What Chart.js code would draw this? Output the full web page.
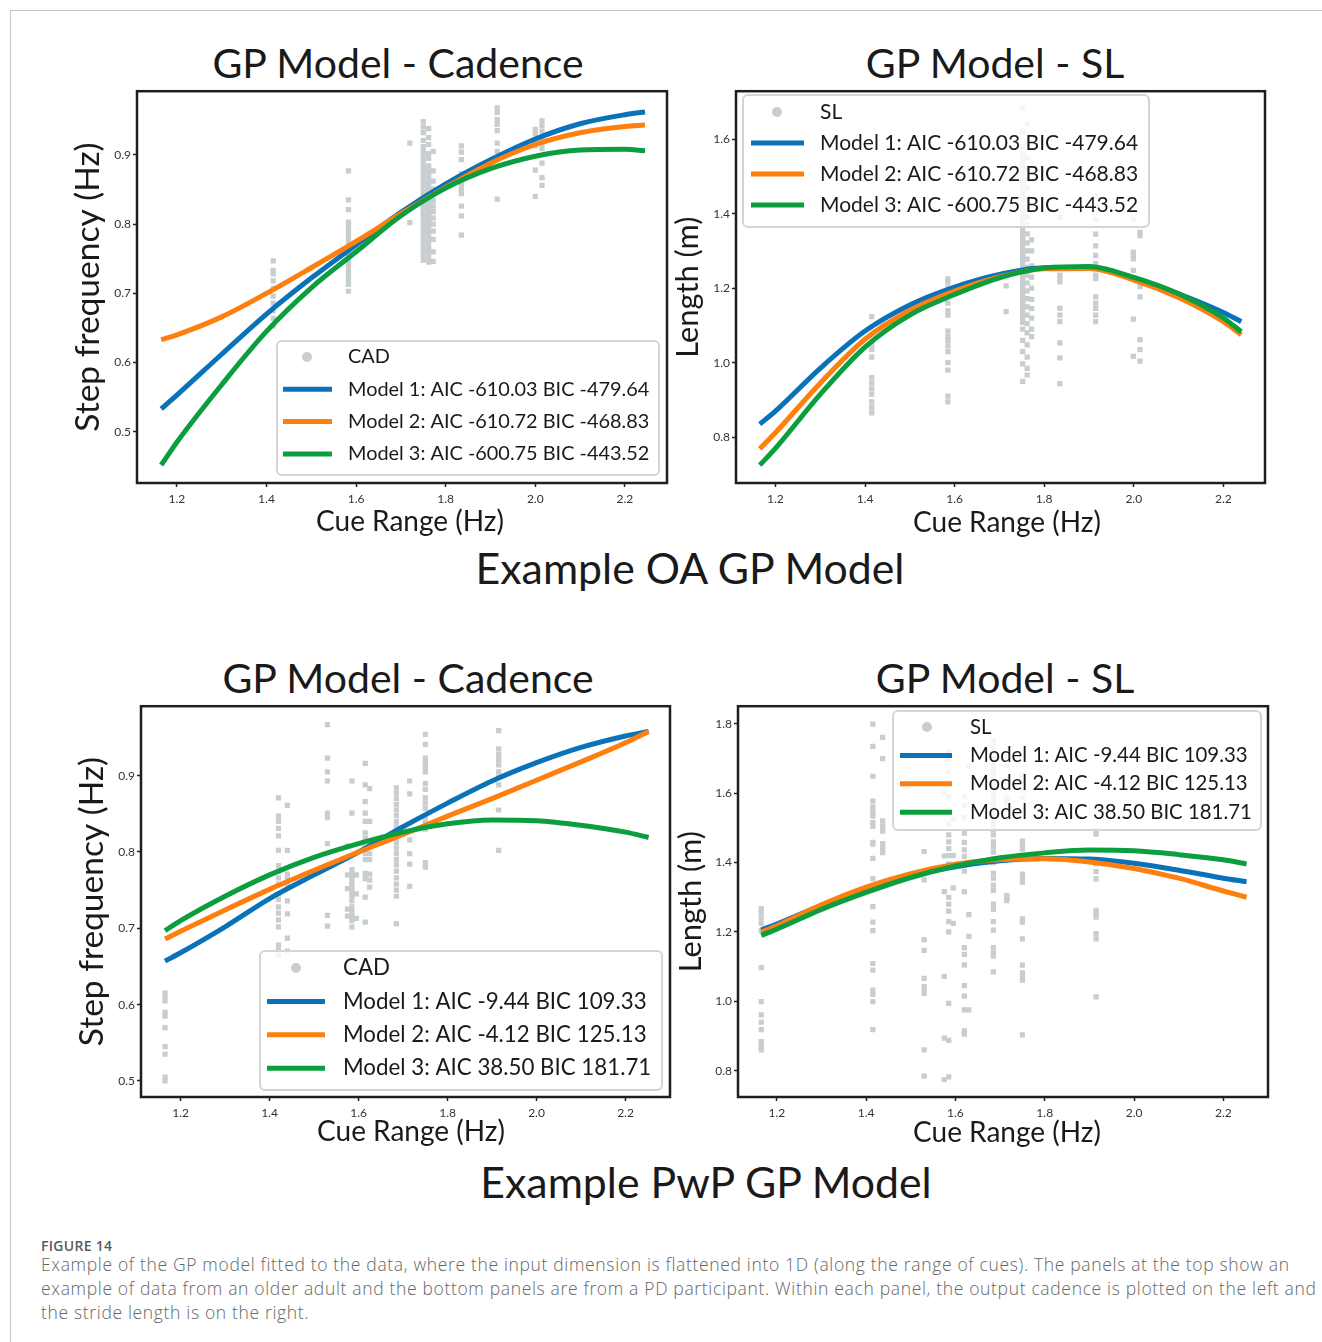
<!DOCTYPE html>
<html>
<head>
<meta charset="utf-8">
<script src="https://cdn.jsdelivr.net/npm/chart.js@4.4.0/dist/chart.umd.min.js"></script>
<style>
  body { margin: 0; width: 1322px; height: 1342px; background: #fff; position: relative; overflow: hidden; font-family: Lato, sans-serif; }
  .rule-top { position: absolute; left: 10px; top: 10px; right: 0; border-top: 1.5px solid #c4c4c4; }
  .rule-left { position: absolute; left: 10px; top: 10px; bottom: 0; border-left: 1.5px solid #c4c4c4; }
  .panel { position: absolute; }
  .ttl { position: absolute; font-size: 41px; line-height: 1; color: #1a1a1a; white-space: nowrap; transform: translate(-50%, -50%); }
  .sup { position: absolute; font-size: 42.8px; line-height: 1; color: #1a1a1a; white-space: nowrap; transform: translate(-50%, -50%); }
  .fig { position: absolute; left: 41px; top: 1236px; font-family: "Open Sans", sans-serif; font-size: 14px; font-weight: 600; letter-spacing: 0.3px; color: #5a5a5a; }
  .cap { position: absolute; left: 41px; top: 1252px; font-family: "Open Sans", sans-serif; font-size: 17.5px; font-weight: 300; letter-spacing: 0.66px; line-height: 24px; color: #666; white-space: nowrap; }
</style>
</head>
<body>
<div class="rule-top"></div>
<div class="rule-left"></div>

<div class="ttl" style="left:398px; top:62px;">GP Model - Cadence</div>
<div class="ttl" style="left:995px; top:62px;">GP Model - SL</div>
<div class="sup" style="left:690px; top:568px;">Example OA GP Model</div>
<div class="ttl" style="left:408px; top:677px;">GP Model - Cadence</div>
<div class="ttl" style="left:1005px; top:677px;">GP Model - SL</div>
<div class="sup" style="left:706px; top:1182px;">Example PwP GP Model</div>

<div class="panel" id="oaCad"><canvas></canvas></div>
<div class="panel" id="oaSl"><canvas></canvas></div>
<div class="panel" id="pwpCad"><canvas></canvas></div>
<div class="panel" id="pwpSl"><canvas></canvas></div>

<div class="fig">FIGURE 14</div>
<div class="cap">Example of the GP model fitted to the data, where the input dimension is flattened into 1D (along the range of cues). The panels at the top show an<br>example of data from an older adult and the bottom panels are from a PD participant. Within each panel, the output cadence is plotted on the left and<br>the stride length is on the right.</div>

<script>
// ---- data ----
const xTicks = [1.2, 1.4, 1.6, 1.8, 2.0, 2.2];
const cadTicks = [0.5, 0.6, 0.7, 0.8, 0.9];
const oaSlTicks = [0.8, 1.0, 1.2, 1.4, 1.6];
const pwpSlTicks = [0.8, 1.0, 1.2, 1.4, 1.6, 1.8];

const oaLabels = ['Model 1: AIC -610.03 BIC -479.64', 'Model 2: AIC -610.72 BIC -468.83', 'Model 3: AIC -600.75 BIC -443.52'];
const pwpLabels = ['Model 1: AIC -9.44 BIC 109.33', 'Model 2: AIC -4.12 BIC 125.13', 'Model 3: AIC 38.50 BIC 181.71'];

// older adult, cadence
const oaCadX  = [1.165, 1.2, 1.3, 1.4, 1.5, 1.6, 1.7, 1.8, 1.9, 2.0, 2.1, 2.2, 2.245];
const oaCadM1 = [0.533, 0.553, 0.612, 0.670, 0.722, 0.770, 0.817, 0.858, 0.893, 0.923, 0.945, 0.958, 0.962];
const oaCadM2 = [0.633, 0.640, 0.666, 0.700, 0.737, 0.775, 0.815, 0.853, 0.888, 0.915, 0.932, 0.941, 0.943];
const oaCadM3 = [0.452, 0.485, 0.568, 0.645, 0.708, 0.760, 0.812, 0.852, 0.880, 0.898, 0.907, 0.908, 0.906];
const oaCadDotX = [1.415, 1.583, 1.72, 1.75, 1.762, 1.772, 1.835, 1.915, 2.0, 2.015];
const oaCadDotY = [
  [0.747, 0.733, 0.728, 0.718, 0.707, 0.696, 0.686, 0.675, 0.664, 0.653],
  [0.877, 0.835, 0.821, 0.803, 0.797, 0.790, 0.783, 0.776, 0.769, 0.762, 0.755, 0.748, 0.741, 0.734, 0.727, 0.720, 0.713, 0.703],
  [0.917, 0.802],
  [0.948, 0.940, 0.932, 0.921, 0.912, 0.905, 0.899, 0.893, 0.887, 0.880, 0.874, 0.869, 0.863, 0.858, 0.852, 0.847, 0.842, 0.836, 0.831, 0.826, 0.821, 0.816, 0.810, 0.805, 0.799, 0.794, 0.788, 0.782, 0.776, 0.769, 0.762, 0.755, 0.748],
  [0.938, 0.925, 0.915, 0.902, 0.895, 0.884, 0.877, 0.871, 0.866, 0.860, 0.855, 0.849, 0.844, 0.839, 0.833, 0.828, 0.823, 0.818, 0.813, 0.807, 0.802, 0.796, 0.790, 0.785, 0.779, 0.772, 0.765, 0.758, 0.751, 0.745],
  [0.905, 0.877, 0.862, 0.851, 0.843, 0.834, 0.826, 0.818, 0.809, 0.800, 0.790, 0.778, 0.760, 0.746],
  [0.913, 0.904, 0.893, 0.873, 0.866, 0.858, 0.851, 0.844, 0.826, 0.812, 0.784],
  [0.968, 0.961, 0.951, 0.944, 0.935, 0.917, 0.905, 0.836],
  [0.937, 0.930, 0.921, 0.913, 0.878, 0.840],
  [0.949, 0.942, 0.934, 0.925, 0.917, 0.909, 0.888, 0.867, 0.856]
];

// older adult, stride length
const oaSlX  = [1.165, 1.2, 1.3, 1.4, 1.5, 1.6, 1.7, 1.8, 1.9, 2.0, 2.1, 2.2, 2.24];
const oaSlM1 = [0.835, 0.870, 0.985, 1.085, 1.155, 1.203, 1.237, 1.255, 1.255, 1.228, 1.185, 1.135, 1.110];
const oaSlM2 = [0.769, 0.812, 0.945, 1.063, 1.140, 1.192, 1.230, 1.252, 1.253, 1.222, 1.175, 1.110, 1.075];
const oaSlM3 = [0.725, 0.770, 0.915, 1.042, 1.128, 1.183, 1.228, 1.254, 1.258, 1.229, 1.185, 1.120, 1.083];
const oaSlDotX = [1.415, 1.585, 1.715, 1.752, 1.762, 1.772, 1.835, 1.915, 1.999, 2.014];
const oaSlDotY = [
  [1.124, 1.05, 1.035, 1.015, 0.96, 0.945, 0.93, 0.915, 0.895, 0.88, 0.865],
  [1.225, 1.215, 1.20, 1.18, 1.16, 1.14, 1.128, 1.085, 1.07, 1.06, 1.045, 1.03, 1.0, 0.98, 0.91, 0.895],
  [1.206, 1.137],
  [1.685, 1.62, 1.58, 1.56, 1.545, 1.53, 1.515, 1.50, 1.488, 1.475, 1.46, 1.448, 1.435, 1.42, 1.41, 1.398, 1.386, 1.375, 1.364, 1.352, 1.340, 1.328, 1.317, 1.305, 1.294, 1.283, 1.272, 1.262, 1.251, 1.240, 1.230, 1.219, 1.208, 1.198, 1.187, 1.176, 1.165, 1.154, 1.143, 1.132, 1.12, 1.108, 1.09, 1.06, 1.03, 0.997, 0.95],
  [1.64, 1.595, 1.55, 1.52, 1.492, 1.468, 1.442, 1.415, 1.392, 1.37, 1.346, 1.322, 1.30, 1.278, 1.256, 1.235, 1.214, 1.193, 1.172, 1.150, 1.128, 1.105, 1.08, 1.048, 1.015, 0.985, 0.967],
  [1.33, 1.30, 1.26, 1.23, 1.20, 1.17, 1.145, 1.12, 1.09, 1.07],
  [1.390, 1.235, 1.226, 1.217, 1.146, 1.128, 1.11, 1.053, 1.013, 0.944],
  [1.447, 1.385, 1.345, 1.314, 1.288, 1.266, 1.235, 1.226, 1.177, 1.16, 1.146, 1.128, 1.11],
  [1.385, 1.297, 1.288, 1.279, 1.248, 1.117, 1.017],
  [1.35, 1.341, 1.204, 1.177, 1.062, 1.035, 1.004]
];

// PwP, cadence
const pwpX = [1.165, 1.2, 1.3, 1.4, 1.5, 1.6, 1.7, 1.8, 1.9, 2.0, 2.1, 2.2, 2.252];
const pwpCadM1 = [0.657, 0.668, 0.702, 0.739, 0.770, 0.800, 0.833, 0.864, 0.893, 0.917, 0.937, 0.952, 0.958];
const pwpCadM2 = [0.686, 0.696, 0.724, 0.751, 0.776, 0.800, 0.823, 0.847, 0.870, 0.894, 0.918, 0.943, 0.958];
const pwpCadM3 = [0.697, 0.710, 0.742, 0.770, 0.793, 0.811, 0.826, 0.837, 0.842, 0.841, 0.835, 0.826, 0.819];
const pwpCadDotX = [1.165, 1.42, 1.44, 1.53, 1.575, 1.585, 1.595, 1.615, 1.625, 1.685, 1.715, 1.75, 1.915];
const pwpCadDotY = [
  [0.615, 0.610, 0.605, 0.590, 0.585, 0.570, 0.545, 0.535, 0.505, 0.500],
  [0.871, 0.847, 0.840, 0.831, 0.821, 0.802, 0.782, 0.775, 0.766, 0.758, 0.745, 0.738, 0.728, 0.720, 0.711, 0.702, 0.678, 0.671, 0.665],
  [0.861, 0.802, 0.771, 0.764, 0.758, 0.736, 0.719, 0.687, 0.670],
  [0.967, 0.923, 0.905, 0.893, 0.851, 0.845, 0.811, 0.717, 0.703],
  [0.808, 0.770, 0.752, 0.725, 0.716],
  [0.893, 0.851, 0.777, 0.771, 0.766, 0.760, 0.754, 0.748, 0.742, 0.736, 0.728, 0.722, 0.716, 0.710, 0.702],
  [0.770, 0.745, 0.713],
  [0.916, 0.888, 0.866, 0.851, 0.840, 0.825, 0.818, 0.806, 0.798, 0.790, 0.772, 0.765, 0.741, 0.708],
  [0.883, 0.840, 0.812, 0.798, 0.790, 0.771, 0.763, 0.754],
  [0.884, 0.877, 0.870, 0.862, 0.855, 0.848, 0.840, 0.833, 0.826, 0.818, 0.812, 0.805, 0.798, 0.790, 0.783, 0.775, 0.766, 0.758, 0.750, 0.742, 0.706],
  [0.893, 0.876, 0.816, 0.798, 0.784, 0.755],
  [0.954, 0.941, 0.923, 0.917, 0.911, 0.905, 0.890, 0.882, 0.871, 0.864, 0.857, 0.846, 0.839, 0.830, 0.786, 0.780],
  [0.959, 0.935, 0.928, 0.921, 0.914, 0.905, 0.898, 0.888, 0.855, 0.802]
];

// PwP, stride length
const pwpSlM1 = [1.206, 1.223, 1.277, 1.325, 1.362, 1.388, 1.405, 1.412, 1.410, 1.398, 1.378, 1.355, 1.345];
const pwpSlM2 = [1.199, 1.218, 1.278, 1.329, 1.368, 1.395, 1.409, 1.411, 1.402, 1.383, 1.355, 1.318, 1.300];
const pwpSlM3 = [1.190, 1.208, 1.265, 1.314, 1.357, 1.390, 1.414, 1.428, 1.436, 1.434, 1.423, 1.408, 1.396];
const pwpSlDotX = [1.165, 1.415, 1.437, 1.53, 1.575, 1.585, 1.595, 1.62, 1.63, 1.685, 1.715, 1.75, 1.915];
const pwpSlDotY = [
  [1.267, 1.255, 1.240, 1.225, 1.204, 1.097, 0.999, 0.961, 0.940, 0.918, 0.884, 0.870, 0.860],
  [1.799, 1.735, 1.649, 1.577, 1.560, 1.545, 1.534, 1.515, 1.505, 1.458, 1.453, 1.412, 1.353, 1.273, 1.228, 1.204, 1.109, 1.090, 1.032, 1.020, 0.999, 0.918],
  [1.761, 1.700, 1.520, 1.505, 1.491, 1.455, 1.442, 1.429],
  [1.432, 1.350, 1.178, 1.147, 1.066, 1.042, 1.032, 1.023, 0.860, 0.784],
  [1.601, 1.419, 1.316, 1.072, 0.894, 0.774],
  [1.72, 1.70, 1.66, 1.63, 1.59, 1.51, 1.48, 1.46, 1.44, 1.42, 1.396, 1.30, 1.28, 1.26, 1.23, 1.20, 0.994, 0.887, 0.782],
  [1.525, 1.42, 1.327, 1.225],
  [1.59, 1.565, 1.53, 1.485, 1.458, 1.437, 1.418, 1.375, 1.316, 1.155, 1.135, 1.105, 1.045, 1.015, 0.975, 0.915, 0.905],
  [1.678, 1.25, 1.187, 0.975],
  [1.75, 1.735, 1.72, 1.70, 1.68, 1.665, 1.65, 1.635, 1.62, 1.60, 1.585, 1.57, 1.555, 1.54, 1.525, 1.51, 1.495, 1.48, 1.46, 1.445, 1.43, 1.41, 1.40, 1.37, 1.355, 1.335, 1.32, 1.28, 1.265, 1.23, 1.205, 1.155, 1.14, 1.13, 1.085],
  [1.678, 1.587, 1.577, 1.568, 1.305, 1.298, 1.290],
  [1.654, 1.632, 1.61, 1.587, 1.462, 1.45, 1.439, 1.367, 1.355, 1.343, 1.238, 1.228, 1.180, 1.104, 1.082, 1.070, 1.061, 0.903],
  [1.491, 1.482, 1.396, 1.374, 1.353, 1.262, 1.252, 1.243, 1.195, 1.180, 1.013]
];

// ---- styling ----
const BLUE = '#0a72b9', ORANGE = '#ff7f0e', GREEN = '#0a9e3e', DOT = '#c8cdd0';
const X_TITLE = 28;

function zip(xs, ys) { return xs.map((x, i) => ({ x: x, y: ys[i] })); }
function dots(xs, cols) { return xs.flatMap((x, i) => cols[i].map(y => ({ x: x, y: y }))); }

const panels = [
  { id: 'oaCad', L: 137, R: 667, T: 88, B: 483, ytx: 88, xtx: 410, xty: 522, ySize: 33.5,
    x: [1.111, 2.294], y: [0.426, 0.992], yTicks: cadTicks, yTitle: 'Step frequency (Hz)', dotName: 'CAD',
    dots: dots(oaCadDotX, oaCadDotY), lx: oaCadX, lines: [oaCadM1, oaCadM2, oaCadM3], labels: oaLabels,
    legend: { l: 277, t: 341, r: 659, b: 475, row0: 357, dy: 32.3, h0: 283, h1: 332, mk: 307, tx: 348, size: 19.9 } },
  { id: 'oaSl', L: 736, R: 1265, T: 88, B: 483, ytx: 688, xtx: 1007, xty: 523, ySize: 30.8,
    x: [1.112, 2.293], y: [0.677, 1.729], yTicks: oaSlTicks, yTitle: 'Length (m)', dotName: 'SL',
    dots: dots(oaSlDotX, oaSlDotY), lx: oaSlX, lines: [oaSlM1, oaSlM2, oaSlM3], labels: oaLabels,
    legend: { l: 743, t: 95, r: 1149, b: 227, row0: 112, dy: 31, h0: 751, h1: 804, mk: 777, tx: 820, size: 21 } },
  { id: 'pwpCad', L: 141, R: 670, T: 703, B: 1097, ytx: 92, xtx: 411, xty: 1132, ySize: 33.5,
    x: [1.111, 2.300], y: [0.479, 0.991], yTicks: cadTicks, yTitle: 'Step frequency (Hz)', dotName: 'CAD',
    dots: dots(pwpCadDotX, pwpCadDotY), lx: pwpX, lines: [pwpCadM1, pwpCadM2, pwpCadM3], labels: pwpLabels,
    legend: { l: 260, t: 951, r: 662, b: 1090, row0: 968, dy: 33.4, h0: 267, h1: 325, mk: 296, tx: 343, size: 22.3 } },
  { id: 'pwpSl', L: 738, R: 1268, T: 703, B: 1097, ytx: 691, xtx: 1007, xty: 1133, ySize: 30.8,
    x: [1.113, 2.300], y: [0.724, 1.851], yTicks: pwpSlTicks, yTitle: 'Length (m)', dotName: 'SL',
    dots: dots(pwpSlDotX, pwpSlDotY), lx: pwpX, lines: [pwpSlM1, pwpSlM2, pwpSlM3], labels: pwpLabels,
    legend: { l: 893, t: 711, r: 1261, b: 830, row0: 727, dy: 28.4, h0: 900, h1: 952, mk: 927, tx: 970, size: 20.4 } }
];

// full box around the plot area
const frame = {
  id: 'frame',
  afterDatasetsDraw(chart) {
    const { ctx, chartArea: a } = chart;
    ctx.save();
    ctx.strokeStyle = '#1e1e1e';
    ctx.lineWidth = 2.5;
    ctx.strokeRect(a.left, a.top, a.right - a.left, a.bottom - a.top);
    ctx.restore();
  }
};

// x axis label, a touch right of centre as in the original figure
const xLabel = {
  id: 'xLabel',
  afterDraw(chart, args, o) {
    const ctx = chart.ctx;
    ctx.save();
    ctx.font = o.size + 'px Lato';
    ctx.fillStyle = '#1a1a1a';
    ctx.textAlign = 'center';
    ctx.textBaseline = 'middle';
    ctx.fillText(o.text, o.x - o.ox, o.y - o.oy);
    ctx.restore();
  }
};

// matplotlib-like legend box inside the axes
const boxLegend = {
  id: 'boxLegend',
  afterDraw(chart, args, o) {
    const ctx = chart.ctx;
    ctx.save();
    ctx.beginPath();
    ctx.roundRect(o.l - o.ox, o.t - o.oy, o.r - o.l, o.b - o.t, 5);
    ctx.fillStyle = 'rgba(255,255,255,0.8)';
    ctx.fill();
    ctx.strokeStyle = '#d4d4d4';
    ctx.lineWidth = 2;
    ctx.stroke();
    ctx.font = o.size + 'px Lato';
    ctx.textBaseline = 'middle';
    chart.data.datasets.forEach((ds, i) => {
      const y = o.row0 + i * o.dy - o.oy;
      if (ds.showLine) {
        ctx.strokeStyle = ds.borderColor;
        ctx.lineWidth = 5;
        ctx.beginPath();
        ctx.moveTo(o.h0 - o.ox, y);
        ctx.lineTo(o.h1 - o.ox, y);
        ctx.stroke();
      } else {
        ctx.fillStyle = ds.backgroundColor;
        ctx.beginPath();
        ctx.arc(o.mk - o.ox, y, 5, 0, Math.PI * 2);
        ctx.fill();
      }
      ctx.fillStyle = '#1a1a1a';
      ctx.fillText(ds.label, o.tx - o.ox, y);
    });
    ctx.restore();
  }
};

const tickFont = { family: 'Lato', size: 12 };

panels.forEach(p => {
  const left = Math.round(p.ytx - p.ySize * 0.6);
  const top = p.T - 6;
  const width = p.R + 6 - left;
  const height = Math.round(p.xty + X_TITLE * 0.6) - top;
  const yw = p.L - left;
  const xh = top + height - p.B;

  const box = document.getElementById(p.id);
  box.style.left = left + 'px';
  box.style.top = top + 'px';
  const cv = box.querySelector('canvas');
  cv.width = width;
  cv.height = height;

  const colors = [BLUE, ORANGE, GREEN];
  const lineSets = p.lines.map((vals, i) => ({
    label: p.labels[i],
    data: zip(p.lx, vals),
    showLine: true,
    borderColor: colors[i],
    borderWidth: 5,
    pointRadius: 0,
    cubicInterpolationMode: 'monotone',
    order: 3 - i
  }));

  new Chart(cv, {
    type: 'scatter',
    data: {
      datasets: [{
        label: p.dotName,
        data: p.dots,
        pointStyle: 'rect',
        pointRadius: 3.7,
        backgroundColor: DOT,
        borderWidth: 0,
        order: 4
      }].concat(lineSets)
    },
    options: {
      responsive: false,
      animation: false,
      events: [],
      layout: { padding: { top: 6, right: 6, left: 0, bottom: 0 } },
      plugins: {
        legend: { display: false },
        tooltip: { enabled: false },
        boxLegend: Object.assign({ ox: left, oy: top }, p.legend),
        xLabel: { text: 'Cue Range (Hz)', size: X_TITLE, x: p.xtx, y: p.xty, ox: left, oy: top }
      },
      scales: {
        x: {
          type: 'linear', min: p.x[0], max: p.x[1],
          afterBuildTicks: s => { s.ticks = xTicks.map(v => ({ value: v })); },
          afterFit: s => { s.height = xh; },
          ticks: { font: tickFont, color: '#333', padding: 5, maxRotation: 0, callback: v => v.toFixed(1) },
          grid: { drawOnChartArea: false, tickLength: 4, tickColor: '#222', tickWidth: 1.5 },
          border: { display: false }
        },
        y: {
          type: 'linear', min: p.y[0], max: p.y[1],
          afterBuildTicks: s => { s.ticks = p.yTicks.map(v => ({ value: v })); },
          afterFit: s => { s.width = yw; },
          ticks: { font: tickFont, color: '#333', padding: 2, callback: v => v.toFixed(1) },
          grid: { drawOnChartArea: false, tickLength: 4, tickColor: '#222', tickWidth: 1.5 },
          border: { display: false },
          title: { display: true, text: p.yTitle, font: { family: 'Lato', size: p.ySize }, color: '#1a1a1a', padding: 0 }
        }
      }
    },
    plugins: [frame, xLabel, boxLegend]
  });
});
</script>
</body>
</html>
